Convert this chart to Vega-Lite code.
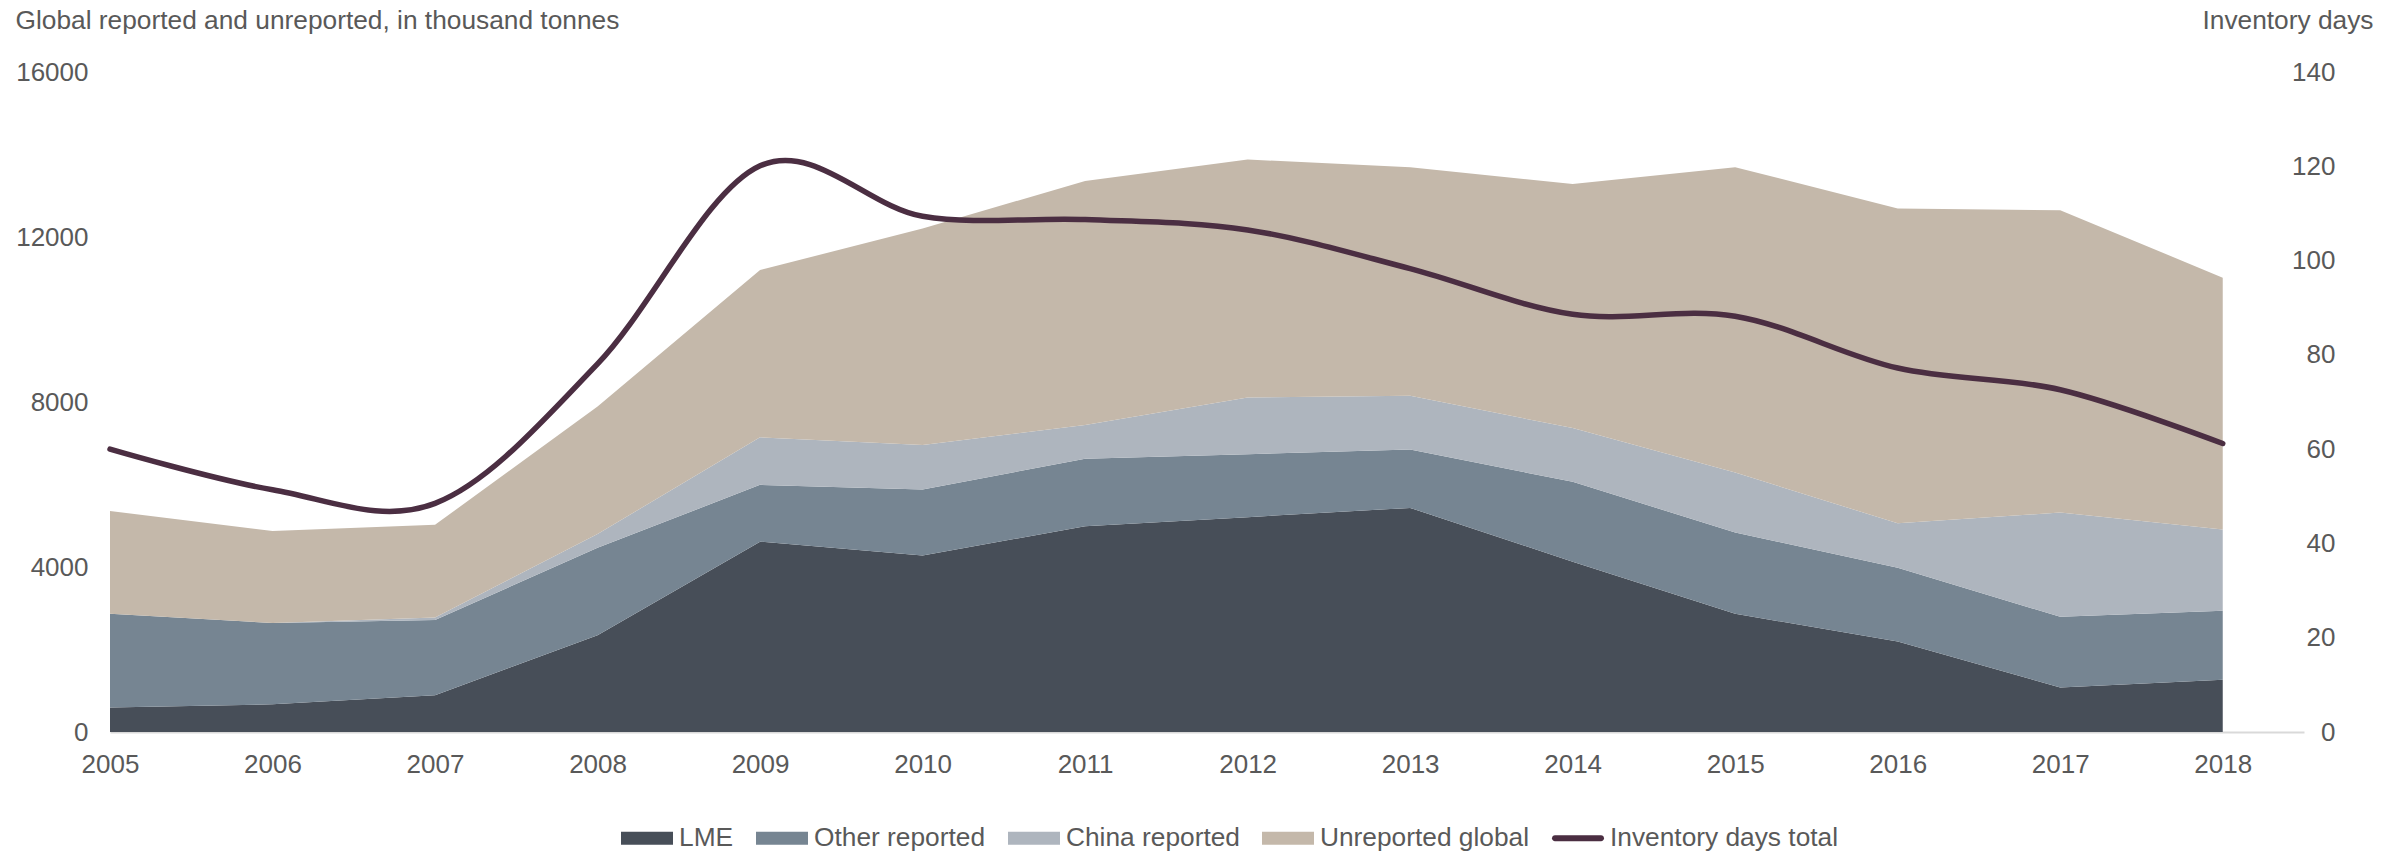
{
  "$schema": "https://vega.github.io/schema/vega-lite/v6.json",
  "width": 2194,
  "height": 660,
  "autosize": {"type": "none"},
  "padding": {"left": 110, "top": 72, "right": 101, "bottom": 123},
  "background": "white",
  "config": {
    "view": {"stroke": null},
    "font": "Liberation Sans",
    "axis": {
      "labelFont": "Liberation Sans",
      "labelFontSize": 26,
      "labelColor": "#595959",
      "titleFont": "Liberation Sans",
      "titleFontSize": 26.3,
      "titleFontWeight": "normal",
      "titleColor": "#595959",
      "grid": false,
      "ticks": false
    }
  },
  "datasets": {
    "stocks": [
      {"year": 2005, "series": "LME", "o": 1, "value": 595},
      {"year": 2006, "series": "LME", "o": 1, "value": 670},
      {"year": 2007, "series": "LME", "o": 1, "value": 893},
      {"year": 2008, "series": "LME", "o": 1, "value": 2344},
      {"year": 2009, "series": "LME", "o": 1, "value": 4614},
      {"year": 2010, "series": "LME", "o": 1, "value": 4279},
      {"year": 2011, "series": "LME", "o": 1, "value": 4986},
      {"year": 2012, "series": "LME", "o": 1, "value": 5209},
      {"year": 2013, "series": "LME", "o": 1, "value": 5433},
      {"year": 2014, "series": "LME", "o": 1, "value": 4130},
      {"year": 2015, "series": "LME", "o": 1, "value": 2865},
      {"year": 2016, "series": "LME", "o": 1, "value": 2195},
      {"year": 2017, "series": "LME", "o": 1, "value": 1079},
      {"year": 2018, "series": "LME", "o": 1, "value": 1265},
      {"year": 2005, "series": "Other reported", "o": 2, "value": 2270},
      {"year": 2006, "series": "Other reported", "o": 2, "value": 1972},
      {"year": 2007, "series": "Other reported", "o": 2, "value": 1823},
      {"year": 2008, "series": "Other reported", "o": 2, "value": 2121},
      {"year": 2009, "series": "Other reported", "o": 2, "value": 1377},
      {"year": 2010, "series": "Other reported", "o": 2, "value": 1600},
      {"year": 2011, "series": "Other reported", "o": 2, "value": 1637},
      {"year": 2012, "series": "Other reported", "o": 2, "value": 1526},
      {"year": 2013, "series": "Other reported", "o": 2, "value": 1414},
      {"year": 2014, "series": "Other reported", "o": 2, "value": 1935},
      {"year": 2015, "series": "Other reported", "o": 2, "value": 1972},
      {"year": 2016, "series": "Other reported", "o": 2, "value": 1786},
      {"year": 2017, "series": "Other reported", "o": 2, "value": 1712},
      {"year": 2018, "series": "Other reported", "o": 2, "value": 1675},
      {"year": 2005, "series": "China reported", "o": 3, "value": 0},
      {"year": 2006, "series": "China reported", "o": 3, "value": 0},
      {"year": 2007, "series": "China reported", "o": 3, "value": 60},
      {"year": 2008, "series": "China reported", "o": 3, "value": 335},
      {"year": 2009, "series": "China reported", "o": 3, "value": 1153},
      {"year": 2010, "series": "China reported", "o": 3, "value": 1079},
      {"year": 2011, "series": "China reported", "o": 3, "value": 819},
      {"year": 2012, "series": "China reported", "o": 3, "value": 1377},
      {"year": 2013, "series": "China reported", "o": 3, "value": 1302},
      {"year": 2014, "series": "China reported", "o": 3, "value": 1302},
      {"year": 2015, "series": "China reported", "o": 3, "value": 1451},
      {"year": 2016, "series": "China reported", "o": 3, "value": 1079},
      {"year": 2017, "series": "China reported", "o": 3, "value": 2530},
      {"year": 2018, "series": "China reported", "o": 3, "value": 1972},
      {"year": 2005, "series": "Unreported global", "o": 4, "value": 2493},
      {"year": 2006, "series": "Unreported global", "o": 4, "value": 2232},
      {"year": 2007, "series": "Unreported global", "o": 4, "value": 2247},
      {"year": 2008, "series": "Unreported global", "o": 4, "value": 3088},
      {"year": 2009, "series": "Unreported global", "o": 4, "value": 4056},
      {"year": 2010, "series": "Unreported global", "o": 4, "value": 5247},
      {"year": 2011, "series": "Unreported global", "o": 4, "value": 5916},
      {"year": 2012, "series": "Unreported global", "o": 4, "value": 5767},
      {"year": 2013, "series": "Unreported global", "o": 4, "value": 5544},
      {"year": 2014, "series": "Unreported global", "o": 4, "value": 5917},
      {"year": 2015, "series": "Unreported global", "o": 4, "value": 7405},
      {"year": 2016, "series": "Unreported global", "o": 4, "value": 7628},
      {"year": 2017, "series": "Unreported global", "o": 4, "value": 7330},
      {"year": 2018, "series": "Unreported global", "o": 4, "value": 6102}
    ],
    "days": [
      {"year": 2005, "days": 60.0},
      {"year": 2006, "days": 51.4},
      {"year": 2007, "days": 48.5},
      {"year": 2008, "days": 78.1},
      {"year": 2009, "days": 120.1},
      {"year": 2010, "days": 109.4},
      {"year": 2011, "days": 108.7},
      {"year": 2012, "days": 106.5},
      {"year": 2013, "days": 98.3},
      {"year": 2014, "days": 88.6},
      {"year": 2015, "days": 88.2},
      {"year": 2016, "days": 77.2},
      {"year": 2017, "days": 72.6},
      {"year": 2018, "days": 61.2}
    ]
  },
  "layer": [
    {
      "data": {"name": "stocks"},
      "mark": {"type": "area", "interpolate": "linear"},
      "encoding": {
        "x": {
          "field": "year",
          "type": "quantitative",
          "scale": {"domain": [2005, 2018.5], "nice": false, "zero": false},
          "axis": {
            "values": [2005, 2006, 2007, 2008, 2009, 2010, 2011, 2012, 2013, 2014, 2015, 2016, 2017, 2018],
            "format": "d",
            "title": null,
            "domainColor": "#D9D9D9",
            "domainWidth": 2,
            "labelPadding": 19,
            "labelFlush": false
          }
        },
        "y": {
          "field": "value",
          "type": "quantitative",
          "stack": "zero",
          "scale": {"domain": [0, 16000], "nice": false},
          "axis": {
            "values": [0, 4000, 8000, 12000, 16000],
            "format": "d",
            "domain": false,
            "labelPadding": 22,
            "title": "Global reported and unreported, in thousand tonnes",
            "titleAngle": 0,
            "titleX": -95,
            "titleY": -52,
            "titleAlign": "left",
            "titleBaseline": "middle"
          }
        },
        "color": {
          "field": "series",
          "type": "nominal",
          "scale": {
            "domain": ["LME", "Other reported", "China reported", "Unreported global", "Inventory days total"],
            "range": ["#474E58", "#768592", "#AEB5BE", "#C4B8AA", "#4B2E42"]
          },
          "legend": {
            "orient": "none",
            "legendX": 511,
            "legendY": 740,
            "direction": "horizontal",
            "title": null,
            "padding": 0,
            "labelFont": "Liberation Sans",
            "labelFontSize": 26.3,
            "labelColor": "#595959",
            "labelLimit": 0,
            "labelOffset": 6,
            "columnPadding": 22,
            "symbolSize": 2704,
            "symbolType": "M-1,-0.25H1V0.25H-1Z",
            "encode": {
              "symbols": {
                "update": {
                  "shape": [
                    {"test": "datum.value === 'Inventory days total'", "value": "M-0.885,-0.115H0.885A0.115,0.115 0 0 1 0.885,0.115H-0.885A0.115,0.115 0 0 1 -0.885,-0.115Z"},
                    {"value": "M-1,-0.25H1V0.25H-1Z"}
                  ],
                  "fill": {"scale": "color", "field": "value"},
                  "stroke": {"value": "transparent"},
                  "strokeWidth": {"value": 0},
                  "opacity": {"value": 1},
                  "fillOpacity": {"value": 1}
                }
              }
            }
          }
        },
        "order": {"field": "o", "type": "quantitative"}
      }
    },
    {
      "data": {"name": "days"},
      "mark": {"type": "line", "interpolate": "cardinal", "tension": 0, "strokeWidth": 5.5, "strokeCap": "round"},
      "encoding": {
        "x": {"field": "year", "type": "quantitative"},
        "y": {
          "field": "days",
          "type": "quantitative",
          "scale": {"domain": [0, 140], "nice": false},
          "axis": {
            "orient": "right",
            "values": [0, 20, 40, 60, 80, 100, 120, 140],
            "domain": false,
            "labelAlign": "right",
            "labelPadding": 31,
            "title": "Inventory days",
            "titleAngle": 0,
            "titleX": 69,
            "titleY": -52,
            "titleAlign": "right",
            "titleBaseline": "middle"
          }
        },
        "color": {"datum": "Inventory days total"}
      }
    }
  ],
  "resolve": {"scale": {"y": "independent"}}
}
